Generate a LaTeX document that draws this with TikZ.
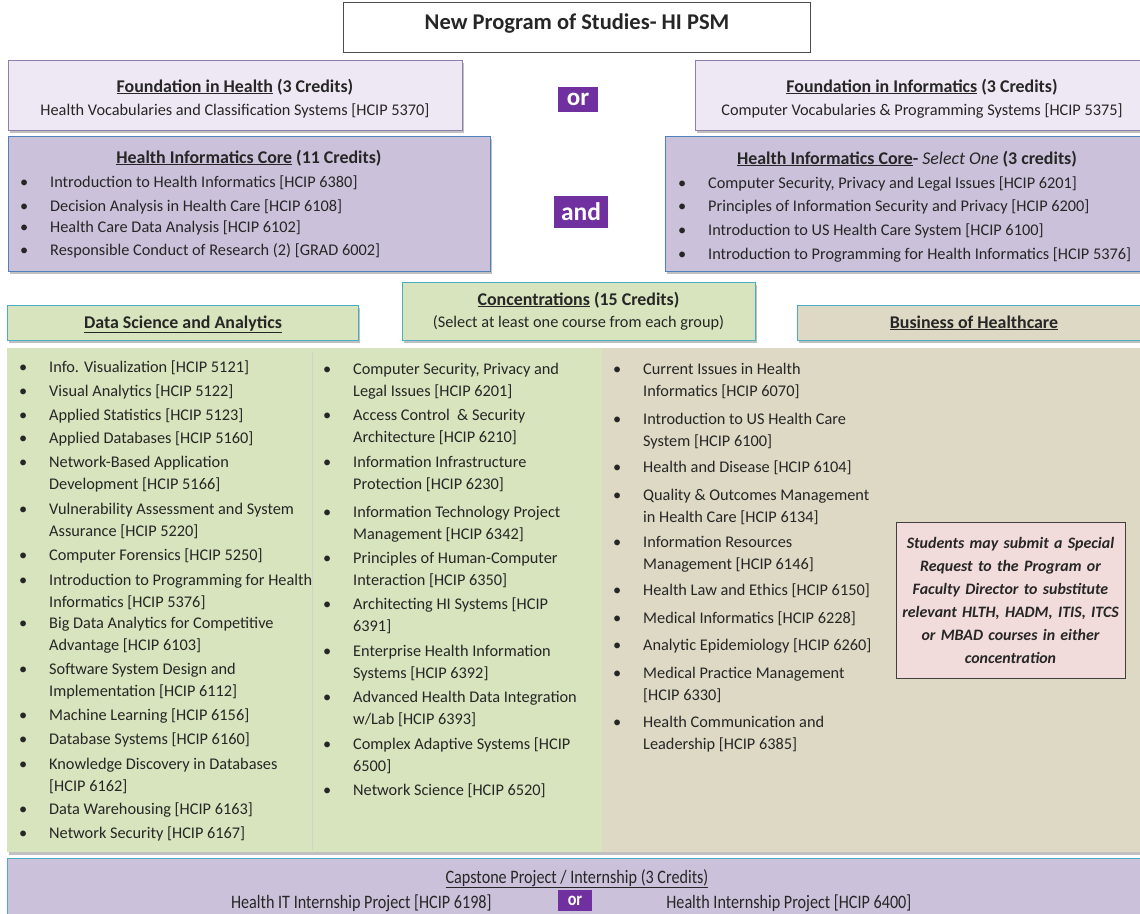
\documentclass[tikz,border=0pt]{standalone}
\usepackage{fontspec}
\setmainfont{Carlito}
\newfontfamily\narrowfont[FakeStretch=0.85]{Carlito}
\usetikzlibrary{positioning,shadows}

\definecolor{lavlight}{HTML}{EEE8F4}
\definecolor{lavborder}{HTML}{8E80A8}
\definecolor{lavcore}{HTML}{CCC1DA}
\definecolor{coreborder}{HTML}{4F81BD}
\definecolor{purpleor}{HTML}{7030A0}
\definecolor{greenconc}{HTML}{D7E4BD}
\definecolor{tanbiz}{HTML}{DDD9C4}
\definecolor{tealborder}{HTML}{4BACC6}
\definecolor{pinknote}{HTML}{F2DCDB}

\newcommand{\crsbullet}{\llap{\textbullet\hspace{22pt}}}

\begin{document}
\begin{tikzpicture}[x=1pt, y=-1pt,
					every node/.style={text=black!85},
					shade box/.style={drop shadow={shadow xshift=2pt, shadow yshift=-2.5pt, fill=black!45, opacity=.55}},
					titlebox/.style={rectangle, draw=black!70, fill=white, inner sep=0pt},
					fndbox/.style={rectangle, draw=lavborder, fill=lavlight, inner sep=0pt, shade box},
					corebox/.style={rectangle, draw=coreborder, fill=lavcore, inner sep=0pt, shade box},
					concbox/.style={rectangle, draw=tealborder, fill=greenconc, inner sep=0pt, shade box},
					bizbox/.style={rectangle, draw=tealborder, fill=tanbiz, inner sep=0pt, shade box},
					notebox/.style={rectangle, draw=black!75, fill=pinknote, align=center, text width=227pt, inner sep=1pt, font=\fontsize{15.9}{23}\selectfont\bfseries\itshape},
					orbox/.style={rectangle, fill=purpleor, text=white, inner sep=0pt},
					head/.style={anchor=base, inner sep=0pt, font=\fontsize{17.9}{20}\selectfont\bfseries},
					plain/.style={anchor=base, inner sep=0pt, font=\fontsize{16.3}{20}\selectfont},
					crs/.style={anchor=base west, inner sep=0pt, align=left, font=\fontsize{16.3}{22}\selectfont},
					capfont/.style={anchor=base, inner sep=0pt, font=\fontsize{19}{20}\selectfont\narrowfont}
				]
				\useasboundingbox (0,0) rectangle (1140,913);
				% title
				\node[titlebox, minimum width=467pt, minimum height=50pt] (titlebox) at (576.5,27) {};
				\node[head, font=\fontsize{22.5}{24}\selectfont\bfseries] (titletext) at (577,29) {New Program of Studies- HI PSM};
				% foundations
				\node[fndbox, minimum width=454pt, minimum height=70pt] (fndhealth) at (235,95) {};
				\node[head] (fndhealthhead) at (235,92) {\underline{Foundation in Health} (3 Credits)};
				\node[plain] (fndhealthcrs) at (235,115) {Health Vocabularies and Classification Systems [HCIP 5370]};
				\node[fndbox, minimum width=448pt, minimum height=70pt] (fndinfo) at (919,95) {};
				\node[head] (fndinfohead) at (922,92) {\underline{Foundation in Informatics} (3 Credits)};
				\node[plain] (fndinfocrs) at (922,115) {Computer Vocabularies \& Programming Systems [HCIP 5375]};
				\node[orbox, minimum width=40pt, minimum height=25pt, font=\fontsize{25}{25}\selectfont\bfseries] (fndor) at (578,99.5) {or};
				% cores
				\node[corebox, minimum width=482pt, minimum height=135pt] (hicore) at (249,203.5) {};
				\node[head] (hicorehead) at (249,163) {\underline{Health Informatics Core} (11 Credits)};
				\foreach \y/\txt [count=\i] in {187/{Introduction to Health Informatics [HCIP 6380]},
						211/{Decision Analysis in Health Care [HCIP 6108]},
						232/{Health Care Data Analysis [HCIP 6102]},
						255/{Responsible Conduct of Research (2) [GRAD 6002]}}
					\node[crs] (hicore\i) at (50,\y) {\crsbullet\txt};
				\node[corebox, minimum width=478pt, minimum height=135pt] (hiselect) at (904,203.5) {};
				\node[head] (hiselecthead) at (907,164) {\underline{Health Informatics Core}- {\mdseries\itshape Select One} (3 credits)};
				\foreach \y/\txt [count=\i] in {188/{Computer Security, Privacy and Legal Issues [HCIP 6201]},
						211/{Principles of Information Security and Privacy [HCIP 6200]},
						235/{Introduction to US Health Care System [HCIP 6100]},
						259/{Introduction to Programming for Health Informatics [HCIP 5376]}}
					\node[crs] (hiselect\i) at (708,\y) {\crsbullet\txt};
				\node[orbox, minimum width=54pt, minimum height=32pt, font=\fontsize{25.5}{26}\selectfont\bfseries] (coreand) at (581,212) {and};
				% concentrations
				\node[concbox, minimum width=353pt, minimum height=58pt] (conc) at (578.5,311) {};
				\node[head] (conchead) at (578.5,305) {\underline{Concentrations} (15 Credits)};
				\node[plain] (concsub) at (578.5,327) {(Select at least one course from each group)};
				\node[concbox, minimum width=351pt, minimum height=35pt] (dsa) at (182.5,322.5) {};
				\node[head] (dsahead) at (183,328) {\underline{Data Science and Analytics}};
				\node[bizbox, minimum width=347pt, minimum height=35pt] (biz) at (970.5,322.5) {};
				\node[head] (bizhead) at (974,328) {\underline{Business of Healthcare}};
				% course area (y = baseline of last line)
				\path[fill=greenconc, shade box] (7,348) rectangle (602,852);
				\path[fill=tanbiz, shade box] (602,348) rectangle (1145,852);
				\draw[black!18, line width=0.7pt] (312,352) -- (312,850);
				\foreach \y/\txt [count=\i] in {372/{Info. Visualization [HCIP 5121]},
						396/{Visual Analytics [HCIP 5122]},
						420/{Applied Statistics [HCIP 5123]},
						443/{Applied Databases [HCIP 5160]},
						489/{Network-Based Application\\Development [HCIP 5166]},
						536/{Vulnerability Assessment and System\\Assurance [HCIP 5220]},
						560/{Computer Forensics [HCIP 5250]},
						607/{Introduction to Programming for Health\\Informatics [HCIP 5376]},
						650/{Big Data Analytics for Competitive\\Advantage [HCIP 6103]},
						696/{Software System Design and\\Implementation [HCIP 6112]},
						720/{Machine Learning [HCIP 6156]},
						744/{Database Systems [HCIP 6160]},
						791/{Knowledge Discovery in Databases\\{}[HCIP 6162]},
						814/{Data Warehousing [HCIP 6163]},
						838/{Network Security [HCIP 6167]}}
					\node[crs] (dsa\i) at (49,\y) {\crsbullet\txt};
				\foreach \y/\txt [count=\i] in {396/{Computer Security, Privacy and\\Legal Issues [HCIP 6201]},
						442/{Access Control~ \& Security\\Architecture [HCIP 6210]},
						489/{Information Infrastructure\\Protection [HCIP 6230]},
						539/{Information Technology Project\\Management [HCIP 6342]},
						585/{Principles of Human-Computer\\Interaction [HCIP 6350]},
						631/{Architecting HI Systems [HCIP\\6391]},
						678/{Enterprise Health Information\\Systems [HCIP 6392]},
						724/{Advanced Health Data Integration\\w/Lab [HCIP 6393]},
						771/{Complex Adaptive Systems [HCIP\\6500]},
						795/{Network Science [HCIP 6520]}}
					\node[crs] (sec\i) at (353,\y) {\crsbullet\txt};
				\foreach \y/\txt [count=\i] in {396/{Current Issues in Health\\Informatics [HCIP 6070]},
						446/{Introduction to US Health Care\\System [HCIP 6100]},
						472/{Health and Disease [HCIP 6104]},
						522/{Quality \& Outcomes Management\\in Health Care [HCIP 6134]},
						569/{Information Resources\\Management [HCIP 6146]},
						595/{Health Law and Ethics [HCIP 6150]},
						623/{Medical Informatics [HCIP 6228]},
						650/{Analytic Epidemiology [HCIP 6260]},
						700/{Medical Practice Management\\{}[HCIP 6330]},
						749/{Health Communication and\\Leadership [HCIP 6385]}}
					\node[crs] (biz\i) at (643,\y) {\crsbullet\txt};
				\node[notebox, minimum width=229pt, minimum height=156pt] (subnote) at (1010.5,600) {Students may submit a Special\\Request to the Program or\\Faculty Director to substitute\\relevant HLTH, HADM, ITIS, ITCS\\or MBAD courses in either\\concentration};
				% capstone
				\path[fill=lavcore, draw=tealborder, line width=0.8pt] (7,858) rectangle (1146,920);
				\node[capfont] (caphead) at (577,883) {\underline{Capstone Project / Internship (3 Credits)}};
				\node[orbox, minimum width=34pt, minimum height=21pt, font=\fontsize{19}{19}\selectfont\bfseries\narrowfont] (capor) at (575,900.5) {or};
				\node[capfont, anchor=east, yshift=-2.5pt] (capit) [left=66pt of capor] {Health IT Internship Project [HCIP 6198]};
				\node[capfont, anchor=west, yshift=-2.5pt] (caphealth) [right=74pt of capor] {Health Internship Project [HCIP 6400]};
				\end{tikzpicture}
\end{document}
